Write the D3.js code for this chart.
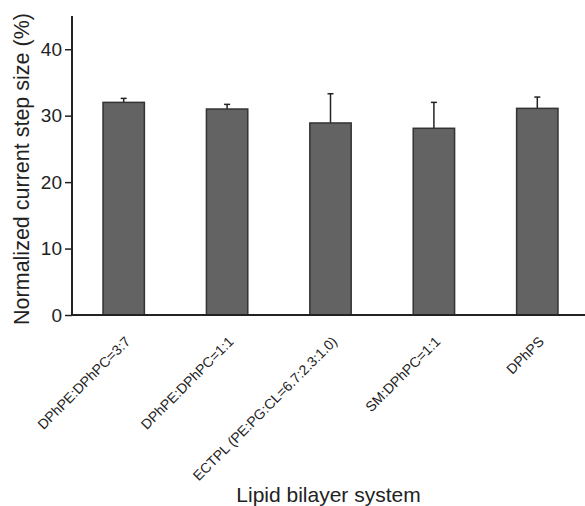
<!DOCTYPE html>
<html>
<head>
<meta charset="utf-8">
<script src="https://cdn.jsdelivr.net/npm/d3@7"></script>
<style>
  body { margin: 0; background: #fff; }
  text { font-family: "Liberation Sans", Arial, Helvetica, sans-serif; fill: #222; }
</style>
</head>
<body>
<script>
const categories = ['DPhPE:DPhPC=3:7', 'DPhPE:DPhPC=1:1', 'ECTPL (PE:PG:CL=6.7:2.3:1.0)', 'SM:DPhPC=1:1', 'DPhPS']
const means = [32.0, 31.0, 28.9, 28.1, 31.1]
const errors = [0.6, 0.7, 4.4, 3.9, 1.7]
const yTicks = [0, 10, 20, 30, 40]

const box = { width: 585, height: 506, left: 72, top: 16, right: 589, bottom: 315 }

const svg = d3.select('body').append('svg').attr('width', box.width).attr('height', box.height)

const x = d3.scaleBand().domain(categories).range([box.left, box.right]).paddingInner(0.6).paddingOuter(0.3)
const y = d3.scaleLinear().domain([0, 45]).range([box.bottom, box.top])

const rows = categories.map((c, i) => ({ c, m: means[i], e: errors[i] }))

// error bars (upper only)
const eb = svg.append('g').attr('stroke', '#222').attr('stroke-width', 1.5)
eb.selectAll('line.v').data(rows).join('line').attr('class', 'v')
  .attr('x1', d => x(d.c) + x.bandwidth() / 2).attr('x2', d => x(d.c) + x.bandwidth() / 2)
  .attr('y1', d => y(d.m)).attr('y2', d => y(d.m + d.e))
eb.selectAll('line.cap').data(rows).join('line').attr('class', 'cap')
  .attr('x1', d => x(d.c) + x.bandwidth() / 2 - 3).attr('x2', d => x(d.c) + x.bandwidth() / 2 + 3)
  .attr('y1', d => y(d.m + d.e)).attr('y2', d => y(d.m + d.e))

svg.append('g').selectAll('rect').data(rows).join('rect')
  .attr('x', d => x(d.c)).attr('width', x.bandwidth())
  .attr('y', d => y(d.m)).attr('height', d => y(0) - y(d.m))
  .attr('fill', '#636363').attr('stroke', '#333').attr('stroke-width', 1.5)

// y axis
const yAxis = svg.append('g').attr('transform', `translate(${box.left},0)`)
  .call(d3.axisLeft(y).tickValues(yTicks).tickSize(7).tickPadding(3))
yAxis.select('.domain').attr('d', `M0,${y(45)}V${y(0)}`).attr('stroke', '#222').attr('stroke-width', 2)
yAxis.selectAll('.tick line').attr('stroke', '#222').attr('stroke-width', 1.5)
yAxis.selectAll('.tick text').attr('font-size', 19).style('fill', '#222')

// x axis line
svg.append('line').attr('x1', box.left - 1).attr('x2', box.width).attr('y1', y(0)).attr('y2', y(0))
  .attr('stroke', '#222').attr('stroke-width', 2)

// x labels
svg.append('g').selectAll('text').data(categories).join('text')
  .attr('transform', d => `translate(${x(d) + x.bandwidth() / 2 + 4},${box.bottom + 24}) rotate(-45)`)
  .attr('text-anchor', 'end').attr('dy', '0.35em').attr('font-size', 14)
  .text(d => d)

svg.append('text').attr('x', (box.left + box.width) / 2).attr('y', 502).attr('text-anchor', 'middle').attr('font-size', 21)
  .text('Lipid bilayer system')

svg.append('text').attr('transform', `translate(29,169) rotate(-90)`)
  .attr('text-anchor', 'middle').attr('font-size', 21.5)
  .text('Normalized current step size (%)')
</script>
</body>
</html>
